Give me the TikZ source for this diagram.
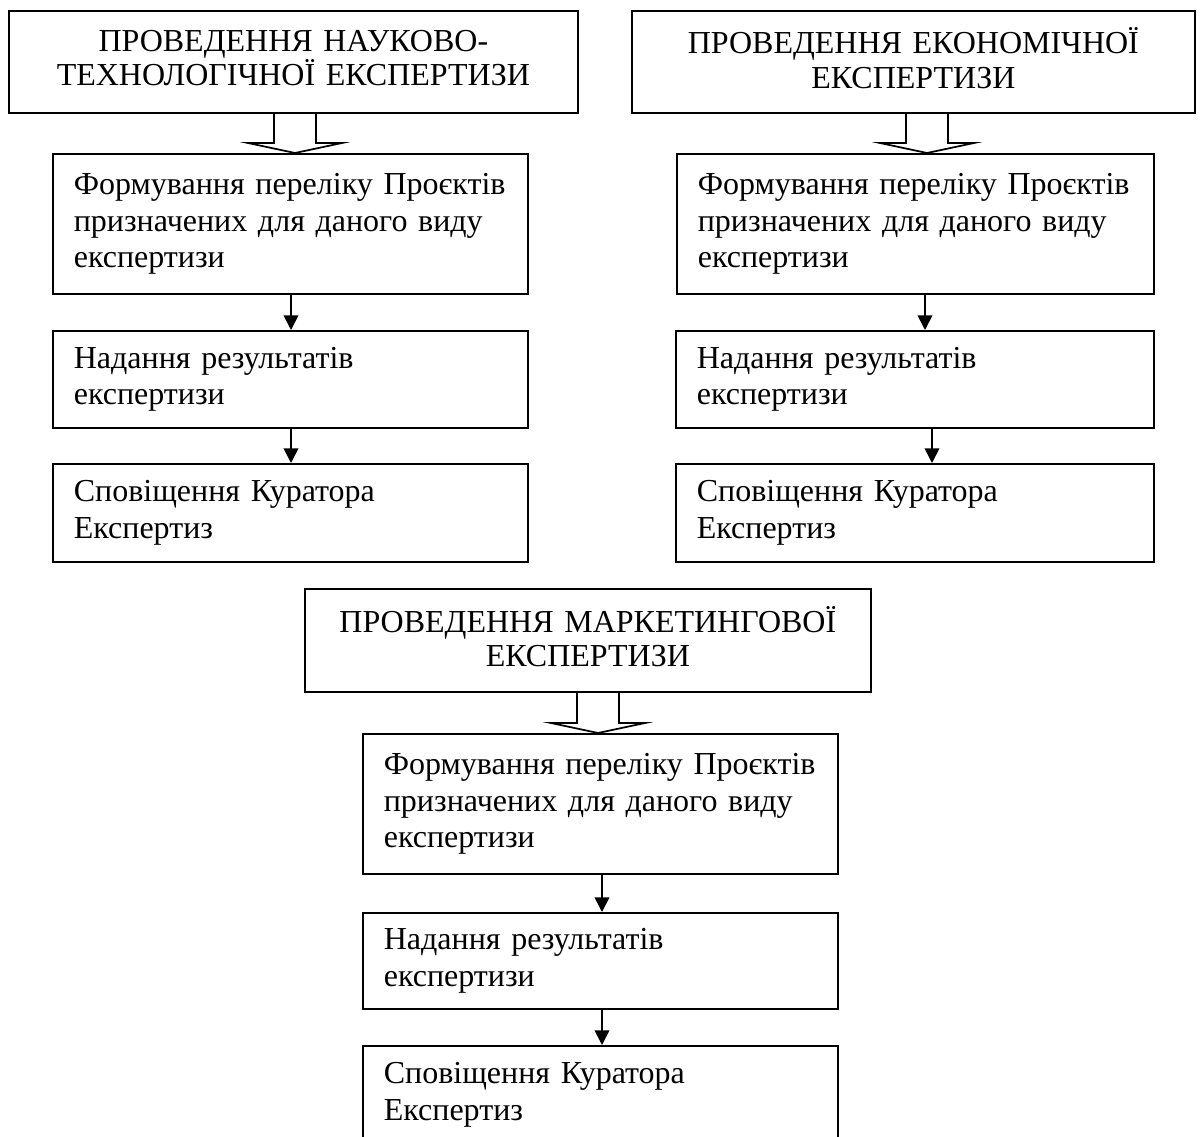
\documentclass[tikz,border=0pt]{standalone}
\usepackage{fontspec}
\setmainfont{Liberation Serif}
\usetikzlibrary{calc,arrows.meta}
\tikzset{
  box/.style={draw, line width=1.3pt, anchor=north west, inner xsep=0pt, inner ysep=0pt,
    font=\fontsize{24}{27.5}\selectfont},
  headbox/.style={box, align=center, font=\fontsize{24}{26}\selectfont},
  stepbox/.style={box, align=left},
  conn/.style={line width=1.3pt, line join=miter},
  sarrow/.style={line width=1.3pt, -{Triangle[length=11pt,width=11pt]}}
}
\newcommand{\hollowarr}[3]{%
  \draw[conn] ($(#1.south -| #3,0)+(-21,0)$) -- ($(#2.north -| #3,0)+(-21,-10)$) -- ++(-26,0)
    -- (#2.north -| #3,0) -- ($(#2.north -| #3,0)+(47,-10)$) -- ++(-26,0)
    -- ($(#1.south -| #3,0)+(21,0)$);%
}
\newcommand{\lift}{\rule[-6pt]{0pt}{6pt}}
\begin{document}
\begin{tikzpicture}[x=0.75pt,y=-0.75pt]
\clip (0,0) rectangle (1200,1137);
\fill[white] (0,0) rectangle (1200,1137);
% column A
\node[headbox, minimum width=569*0.75pt, minimum height=102*0.75pt, text width=540*0.75pt] (A1) at (8,10)
  {ПРОВЕДЕННЯ НАУКОВО-\\ТЕХНОЛОГІЧНОЇ ЕКСПЕРТИЗИ\lift};
\node[stepbox, minimum width=475*0.75pt, minimum height=140*0.75pt, text width=433*0.75pt] (A2) at (52,153)
  {Формування переліку Проєктів\\призначених для даного виду\\експертизи};
\node[stepbox, minimum width=475*0.75pt, minimum height=97*0.75pt, text width=433*0.75pt] (A3) at (52,330)
  {Надання результатів\\експертизи};
\node[stepbox, minimum width=475*0.75pt, minimum height=98*0.75pt, text width=433*0.75pt] (A4) at (52,463)
  {Сповіщення Куратора\\Експертиз};
% column B
\node[headbox, minimum width=563*0.75pt, minimum height=102*0.75pt, text width=540*0.75pt] (B1) at (631,10)
  {ПРОВЕДЕННЯ ЕКОНОМІЧНОЇ\\ЕКСПЕРТИЗИ\lift};
\node[stepbox, minimum width=477*0.75pt, minimum height=140*0.75pt, text width=435*0.75pt] (B2) at (676,153)
  {Формування переліку Проєктів\\призначених для даного виду\\експертизи};
\node[stepbox, minimum width=478*0.75pt, minimum height=97*0.75pt, text width=436*0.75pt] (B3) at (675,330)
  {Надання результатів\\експертизи};
\node[stepbox, minimum width=478*0.75pt, minimum height=98*0.75pt, text width=436*0.75pt] (B4) at (675,463)
  {Сповіщення Куратора\\Експертиз};
% column C
\node[headbox, minimum width=566*0.75pt, minimum height=103*0.75pt, text width=540*0.75pt] (C1) at (304,588)
  {ПРОВЕДЕННЯ МАРКЕТИНГОВОЇ\\ЕКСПЕРТИЗИ\lift};
\node[stepbox, minimum width=475*0.75pt, minimum height=140*0.75pt, text width=433*0.75pt] (C2) at (362,733)
  {Формування переліку Проєктів\\призначених для даного виду\\експертизи};
\node[stepbox, minimum width=475*0.75pt, minimum height=96*0.75pt, text width=433*0.75pt] (C3) at (362,912)
  {Надання результатів\\експертизи};
\node[stepbox, minimum width=475*0.75pt, minimum height=98*0.75pt, text width=433*0.75pt] (C4) at (362,1045)
  {Сповіщення Куратора\\Експертиз};
% connectors
\hollowarr{A1}{A2}{295}
\hollowarr{B1}{B2}{927}
\hollowarr{C1}{C2}{598}
\draw[sarrow] (A2.south -| 291,0) -- (A3.north -| 291,0);
\draw[sarrow] (A3.south -| 291,0) -- (A4.north -| 291,0);
\draw[sarrow] (B2.south -| 925,0) -- (B3.north -| 925,0);
\draw[sarrow] (B3.south -| 932,0) -- (B4.north -| 932,0);
\draw[sarrow] (C2.south -| 602,0) -- (C3.north -| 602,0);
\draw[sarrow] (C3.south -| 602,0) -- (C4.north -| 602,0);
\end{tikzpicture}
\end{document}
